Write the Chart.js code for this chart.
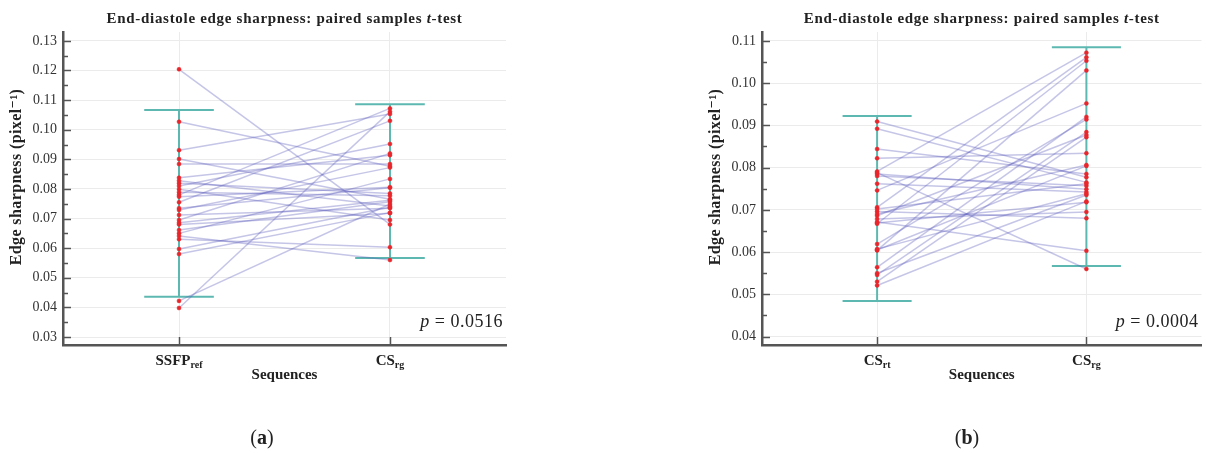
<!DOCTYPE html>
<html>
<head>
<meta charset="utf-8">
<script src="https://cdn.jsdelivr.net/npm/chart.js@4.4.0/dist/chart.umd.min.js"></script>
<style>
  body { margin: 0; background: #fff; }
  #wrap { position: relative; width: 1206px; height: 453px; overflow: hidden; }
  canvas { position: absolute; top: 0; }
  #chartA { left: 0; }
  #chartB { left: 699px; }
</style>
</head>
<body>
<div id="wrap">
  <canvas id="chartA" width="520" height="453"></canvas>
  <canvas id="chartB" width="507" height="453"></canvas>
</div>
<script>
// one value per subject, same subject order in all three arrays
var csRg = [0.1072, 0.1061, 0.1053, 0.1030, 0.0952, 0.0920, 0.0914, 0.0884, 0.0877, 0.0872,
            0.0834, 0.0806, 0.0785, 0.0777, 0.0765, 0.0757, 0.0749, 0.0742, 0.0735, 0.0720,
            0.0695, 0.0680, 0.0603, 0.0560, 0.0804, 0.0762, 0.0738, 0.0718];
var ssfpRef = [0.0780, 0.0398, 0.0931, 0.0755, 0.0810, 0.0695, 0.0838, 0.0884, 0.1027, 0.0729,
               0.0650, 0.0774, 0.0819, 0.0789, 0.0901, 0.0661, 0.0422, 0.0828, 0.0712, 0.0580,
               0.0799, 0.1204, 0.0630, 0.0641, 0.0735, 0.0686, 0.0597, 0.0680];
var csRt = [0.0791, 0.0706, 0.0667, 0.0604, 0.0746, 0.0564, 0.0619, 0.0546, 0.0686, 0.0530,
            0.0822, 0.0690, 0.0844, 0.0909, 0.0892, 0.0780, 0.0785, 0.0762, 0.0550, 0.0521,
            0.0678, 0.0696, 0.0671, 0.0788, 0.0605, 0.0702, 0.0607, 0.0669];

// whisker ends [left column, right column]
var errLowA = [0.0436, 0.0567];
var errHighA = [0.1067, 0.1086];
var errLowB = [0.0484, 0.0567];
var errHighB = [0.0922, 0.1085];

var catMainA = ['SSFP', 'CS'];
var catSubA = ['ref', 'rg'];
var catMainB = ['CS', 'CS'];
var catSubB = ['rt', 'rg'];

var yTicksA = [0.03, 0.04, 0.05, 0.06, 0.07, 0.08, 0.09, 0.10, 0.11, 0.12, 0.13];
var yTicksB = [0.04, 0.05, 0.06, 0.07, 0.08, 0.09, 0.10, 0.11];

var pValueA = '0.0516';
var pValueB = '0.0004';

var SERIF = "'Liberation Serif', 'DejaVu Serif', serif";
var AXIS_COLOR = '#555';
var GRID_COLOR = '#ebebeb';

function makeChart(id, leftVals, rightVals, lo, hi, yMin, yMax, yTicks, cats, subs, pText, panel, padRight) {
  var datasets = [];
  // red points
  var pts = [];
  leftVals.forEach(function (v) { pts.push({ x: 1, y: v }); });
  rightVals.forEach(function (v) { pts.push({ x: 2, y: v }); });
  datasets.push({
    type: 'scatter', data: pts, order: 0,
    pointRadius: 2, pointBackgroundColor: '#e8262b', pointBorderColor: '#e8262b', pointBorderWidth: 0.5
  });
  // paired lines
  leftVals.forEach(function (v, i) {
    datasets.push({
      type: 'line', data: [{ x: 1, y: v }, { x: 2, y: rightVals[i] }], order: 1,
      borderColor: 'rgba(90,90,185,0.35)', borderWidth: 1.5, pointRadius: 0, tension: 0
    });
  });
  // whiskers
  var cap = 0.165;
  [1, 2].forEach(function (x, k) {
    var bars = [
      [{ x: x, y: lo[k] }, { x: x, y: hi[k] }],
      [{ x: x - cap, y: hi[k] }, { x: x + cap, y: hi[k] }],
      [{ x: x - cap, y: lo[k] }, { x: x + cap, y: lo[k] }]
    ];
    bars.forEach(function (d) {
      datasets.push({
        type: 'line', data: d, order: 2,
        borderColor: '#5cb8b0', borderWidth: 2, pointRadius: 0
      });
    });
  });

  var extras = {
    id: 'extras',
    afterDraw: function (chart) {
      var c = chart.ctx, xs = chart.scales.x, ys = chart.scales.y, a = chart.chartArea;
      c.save();
      // inward ticks
      c.strokeStyle = AXIS_COLOR;
      c.lineWidth = 1.5;
      for (var v = Math.ceil(yMin * 200) / 200; v <= yMax + 1e-9; v += 0.005) {
        var py = Math.round(ys.getPixelForValue(v)) + 0.5;
        var major = Math.abs(v * 100 - Math.round(v * 100)) < 1e-6;
        c.beginPath();
        c.moveTo(a.left, py);
        c.lineTo(a.left + (major ? 8 : 5), py);
        c.stroke();
      }
      [1, 2].forEach(function (x) {
        var px = Math.round(xs.getPixelForValue(x)) + 0.5;
        c.beginPath();
        c.moveTo(px, a.bottom);
        c.lineTo(px, a.bottom - 8);
        c.stroke();
      });
      // y axis title
      c.fillStyle = '#222';
      c.save();
      c.translate(17, 177);
      c.rotate(-Math.PI / 2);
      c.textAlign = 'center';
      c.textBaseline = 'middle';
      c.font = 'bold 16px ' + SERIF;
      c.letterSpacing = '0.4px';
      c.fillText('Edge sharpness (pixel\u207B\u00B9)', 0, 0);
      c.restore();
      // category labels with subscripts
      c.textBaseline = 'alphabetic';
      [0, 1].forEach(function (k) {
        var px = xs.getPixelForValue(k + 1);
        c.font = 'bold 15px ' + SERIF;
        var w1 = c.measureText(cats[k]).width;
        c.font = 'bold 10px ' + SERIF;
        var w2 = c.measureText(subs[k]).width;
        var x0 = px - (w1 + w2) / 2;
        c.font = 'bold 15px ' + SERIF;
        c.textAlign = 'left';
        c.fillText(cats[k], x0, a.bottom + 20);
        c.font = 'bold 10px ' + SERIF;
        c.fillText(subs[k], x0 + w1, a.bottom + 23);
      });
      var cx = (a.left + a.right) / 2;
      c.textAlign = 'center';
      c.font = 'bold 15px ' + SERIF;
      c.fillText('Sequences', cx, a.bottom + 34);
      // title with italic t
      c.letterSpacing = '0.7px';
      var t1 = 'End-diastole edge sharpness: paired samples ', t2 = 't', t3 = '-test';
      c.font = 'bold 15px ' + SERIF;
      var w1 = c.measureText(t1).width, w3 = c.measureText(t3).width;
      c.font = 'italic bold 15px ' + SERIF;
      var w2 = c.measureText(t2).width;
      var tx = cx - (w1 + w2 + w3) / 2;
      c.textAlign = 'left';
      c.font = 'bold 15px ' + SERIF;
      c.fillText(t1, tx, 23);
      c.font = 'italic bold 15px ' + SERIF;
      c.fillText(t2, tx + w1, 23);
      c.font = 'bold 15px ' + SERIF;
      c.fillText(t3, tx + w1 + w2, 23);
      // p value
      c.letterSpacing = '0.5px';
      c.textAlign = 'right';
      c.font = '18px ' + SERIF;
      var pv = ' = ' + pText;
      var wp = c.measureText(pv).width;
      c.fillText(pv, a.right - 3, 327);
      c.font = 'italic 18px ' + SERIF;
      c.fillText('p', a.right - 3 - wp, 327);
      c.letterSpacing = '0px';
      // panel label
      c.textAlign = 'left';
      c.font = '20px ' + SERIF;
      var wl = c.measureText('(').width;
      c.font = 'bold 20px ' + SERIF;
      var wm = c.measureText(panel).width;
      var lx = panel === 'a' ? 262 : 268;
      var sx = lx - (2 * wl + wm) / 2;
      c.font = '20px ' + SERIF;
      c.fillText('(', sx, 444);
      c.font = 'bold 20px ' + SERIF;
      c.fillText(panel, sx + wl, 444);
      c.font = '20px ' + SERIF;
      c.fillText(')', sx + wl + wm, 444);
      c.restore();
    }
  };

  return new Chart(document.getElementById(id), {
    data: { datasets: datasets },
    options: {
      responsive: false,
      animation: false,
      layout: { padding: { left: 0, right: padRight, top: 32, bottom: 0 } },
      plugins: { legend: { display: false }, tooltip: { enabled: false } },
      scales: {
        x: {
          type: 'linear', min: 0.45, max: 2.55,
          afterBuildTicks: function (s) { s.ticks = [{ value: 1 }, { value: 2 }]; },
          afterFit: function (s) { s.height = 108; },
          ticks: { display: false },
          grid: { color: GRID_COLOR, drawTicks: false },
          border: { display: true, color: AXIS_COLOR, width: 2.5 }
        },
        y: {
          type: 'linear', min: yMin, max: yMax,
          afterBuildTicks: function (s) { s.ticks = yTicks.map(function (v) { return { value: v }; }); },
          afterFit: function (s) { s.width = 63; },
          ticks: {
            padding: 6, color: '#333',
            font: { family: SERIF, size: 14 },
            callback: function (v) { return Number(v).toFixed(2); }
          },
          grid: { color: GRID_COLOR, drawTicks: false },
          border: { display: true, color: AXIS_COLOR, width: 2.5 }
        }
      }
    },
    plugins: [extras]
  });
}

makeChart('chartA', ssfpRef, csRg, errLowA, errHighA, 0.0273, 0.133, yTicksA, catMainA, catSubA, pValueA, 'a', 14);
makeChart('chartB', csRt, csRg, errLowB, errHighB, 0.038, 0.1121, yTicksB, catMainB, catSubB, pValueB, 'b', 3);
</script>
</body>
</html>
